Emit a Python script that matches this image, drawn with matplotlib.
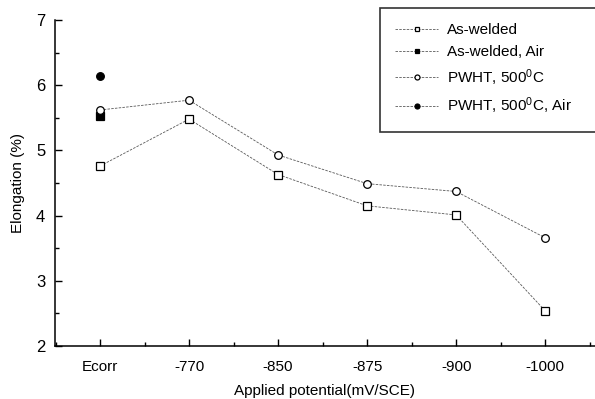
import matplotlib
matplotlib.use("Agg")
import matplotlib.pyplot as plt
from matplotlib.ticker import MultipleLocator

plt.rcParams['font.family'] = ['Liberation Sans', 'DejaVu Sans']
plt.rcParams['mathtext.fontset'] = 'custom'
plt.rcParams['mathtext.rm'] = 'Liberation Sans'
plt.rcParams['mathtext.it'] = 'Liberation Sans'

categories = ["Ecorr", "-770", "-850", "-875", "-900", "-1000"]
as_welded = [4.76, 5.48, 4.63, 4.15, 4.01, 2.54]
pwht = [5.62, 5.77, 4.93, 4.49, 4.37, 3.66]
as_welded_air = [5.52]
pwht_air = [6.14]

fig = plt.figure(figsize=(5.95, 3.99), dpi=100)
ax = fig.add_axes([55/595, 1-346/399, 540/595, 326/399])

x = list(range(len(categories)))
ls = (0, (3, 1.5))
common = dict(linestyle=ls, lw=0.6, color='0.35', ms=5.5, mec='black', mew=0.9)
ax.plot(x, as_welded, marker='s', mfc='white', label='As-welded', **common)
ax.plot([0], as_welded_air, marker='s', mfc='black', label='As-welded, Air', **common)
ax.plot(x, pwht, marker='o', mfc='white', label='PWHT, 500$^{0}$C', **common)
ax.plot([0], pwht_air, marker='o', mfc='black', label='PWHT, 500$^{0}$C, Air', **common)

ax.set_xlim(-0.506, 5.56)
ax.set_ylim(2, 7)
ax.set_xticks(x)
ax.set_xticklabels(categories, fontsize=11)
ax.xaxis.set_minor_locator(MultipleLocator(0.5))
ax.yaxis.set_major_locator(MultipleLocator(1))
ax.yaxis.set_minor_locator(MultipleLocator(0.5))
ax.tick_params(axis='both', which='major', direction='in', length=5, width=1)
ax.tick_params(axis='y', which='major', labelsize=12, pad=7)
ax.tick_params(axis='x', which='major', pad=10)
ax.tick_params(axis='both', which='minor', direction='in', length=3, width=1)
ax.spines['top'].set_visible(False)
ax.spines['right'].set_visible(False)
for s in ['left', 'bottom']:
    ax.spines[s].set_linewidth(1.1)

ax.set_xlabel('Applied potential(mV/SCE)', fontsize=11, labelpad=7)
ax.set_ylabel('Elongation (%)', fontsize=11, labelpad=8)

y_top = 1 - 8/399
y_bot = 1 - 126/399
leg = fig.legend(loc='upper left', bbox_to_anchor=(380/595, y_bot, 280/595, y_top - y_bot),
                 bbox_transform=fig.transFigure, mode='expand', fontsize=11, frameon=True,
                 fancybox=False, edgecolor='black', handlelength=2.8,
                 labelspacing=0.52, borderpad=1.0, handletextpad=0.6,
                 borderaxespad=0, markerscale=0.65)
leg.get_frame().set_linewidth(1.2)

fig.savefig('out.png', dpi=100)
